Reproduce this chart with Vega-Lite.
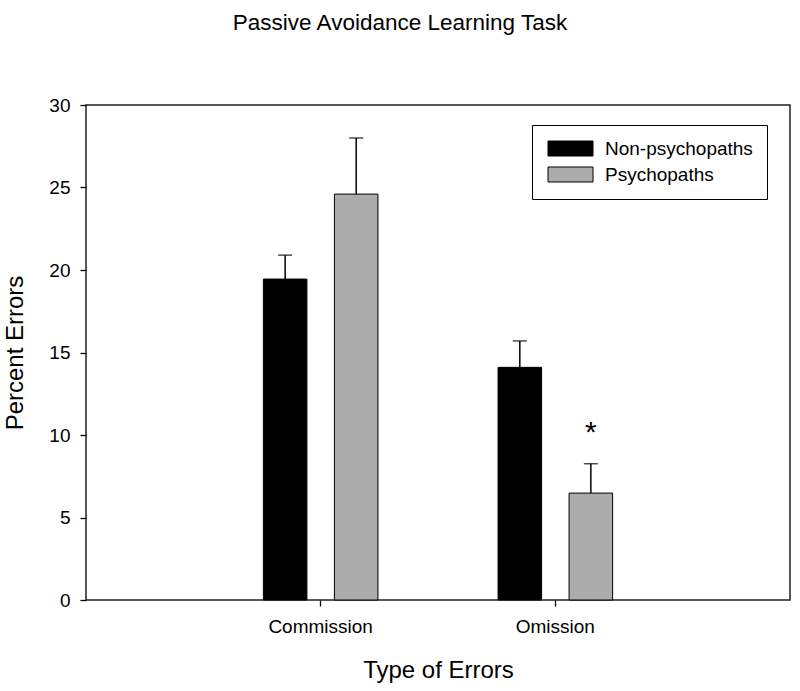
{
  "$schema": "https://vega.github.io/schema/vega-lite/v6.json",
  "autosize": "none",
  "width": 704,
  "height": 495,
  "padding": {"left": 86, "top": 105, "right": 10, "bottom": 91},
  "background": "white",
  "title": {
    "text": "Passive Avoidance Learning Task",
    "anchor": "middle",
    "dx": -38,
    "offset": 62,
    "fontSize": 22.5,
    "fontWeight": "normal",
    "font": "Liberation Sans",
    "color": "black"
  },
  "data": {
    "values": [
      {"type": "Commission", "group": "Non-psychopaths", "value": 19.45, "upper": 20.9},
      {"type": "Commission", "group": "Psychopaths", "value": 24.6, "upper": 28.0},
      {"type": "Omission", "group": "Non-psychopaths", "value": 14.1, "upper": 15.7},
      {"type": "Omission", "group": "Psychopaths", "value": 6.48, "upper": 8.26, "sig": "*", "sigY": 9.6}
    ]
  },
  "encoding": {
    "x": {
      "field": "type",
      "type": "nominal",
      "sort": ["Commission", "Omission"],
      "scale": {"paddingInner": 0.2, "paddingOuter": 0.6},
      "axis": {
        "title": "Type of Errors",
        "labelAngle": 0,
        "domain": false,
        "tickSize": 6,
        "tickColor": "black",
        "tickWidth": 1.3,
        "labelPadding": 11,
        "titlePadding": 22,
        "labelFontSize": 19,
        "titleFontSize": 24
      }
    },
    "xOffset": {
      "field": "group",
      "type": "nominal",
      "sort": ["Non-psychopaths", "Psychopaths"],
      "scale": {"paddingInner": 0.387, "paddingOuter": 0.515}
    }
  },
  "layer": [
    {
      "mark": {"type": "bar", "stroke": "black", "strokeWidth": 1},
      "encoding": {
        "y": {
          "field": "value",
          "type": "quantitative",
          "scale": {"domain": [0, 30], "nice": false},
          "axis": {
            "title": "Percent Errors",
            "values": [0, 5, 10, 15, 20, 25, 30],
            "grid": false,
            "domain": false,
            "tickSize": 6,
            "tickColor": "black",
            "tickWidth": 1.3,
            "labelPadding": 10,
            "titlePadding": 21,
            "labelFontSize": 19,
            "titleFontSize": 24
          }
        },
        "color": {
          "field": "group",
          "type": "nominal",
          "sort": ["Non-psychopaths", "Psychopaths"],
          "scale": {"range": ["black", "#acacac"]},
          "legend": {
            "title": null,
            "orient": "none",
            "legendX": 446,
            "legendY": 20,
            "strokeColor": "black",
            "fillColor": "white",
            "padding": 14,
            "symbolType": "M-1,-1H5V1H-1Z",
            "symbolSize": 225,
            "symbolStrokeColor": "black",
            "symbolStrokeWidth": 1,
            "labelFontSize": 19,
            "labelOffset": 40,
            "rowPadding": 6,
            "labelColor": "black"
          }
        }
      }
    },
    {
      "mark": {"type": "rule", "color": "black", "strokeWidth": 1.5},
      "encoding": {
        "y": {"field": "value", "type": "quantitative"},
        "y2": {"field": "upper"}
      }
    },
    {
      "mark": {"type": "tick", "color": "black", "thickness": 1.5, "size": 14},
      "encoding": {
        "y": {"field": "upper", "type": "quantitative"}
      }
    },
    {
      "transform": [{"filter": "datum.sig != null"}],
      "mark": {"type": "text", "fontSize": 30, "color": "black", "baseline": "alphabetic", "font": "Liberation Sans"},
      "encoding": {
        "y": {"field": "sigY", "type": "quantitative"},
        "text": {"field": "sig"}
      }
    }
  ],
  "config": {
    "font": "Liberation Sans",
    "view": {"stroke": "#222", "strokeWidth": 1.5},
    "axis": {
      "labelColor": "black",
      "titleColor": "black",
      "labelFont": "Liberation Sans",
      "titleFont": "Liberation Sans",
      "titleFontWeight": "normal"
    },
    "legend": {"labelFont": "Liberation Sans"}
  }
}
